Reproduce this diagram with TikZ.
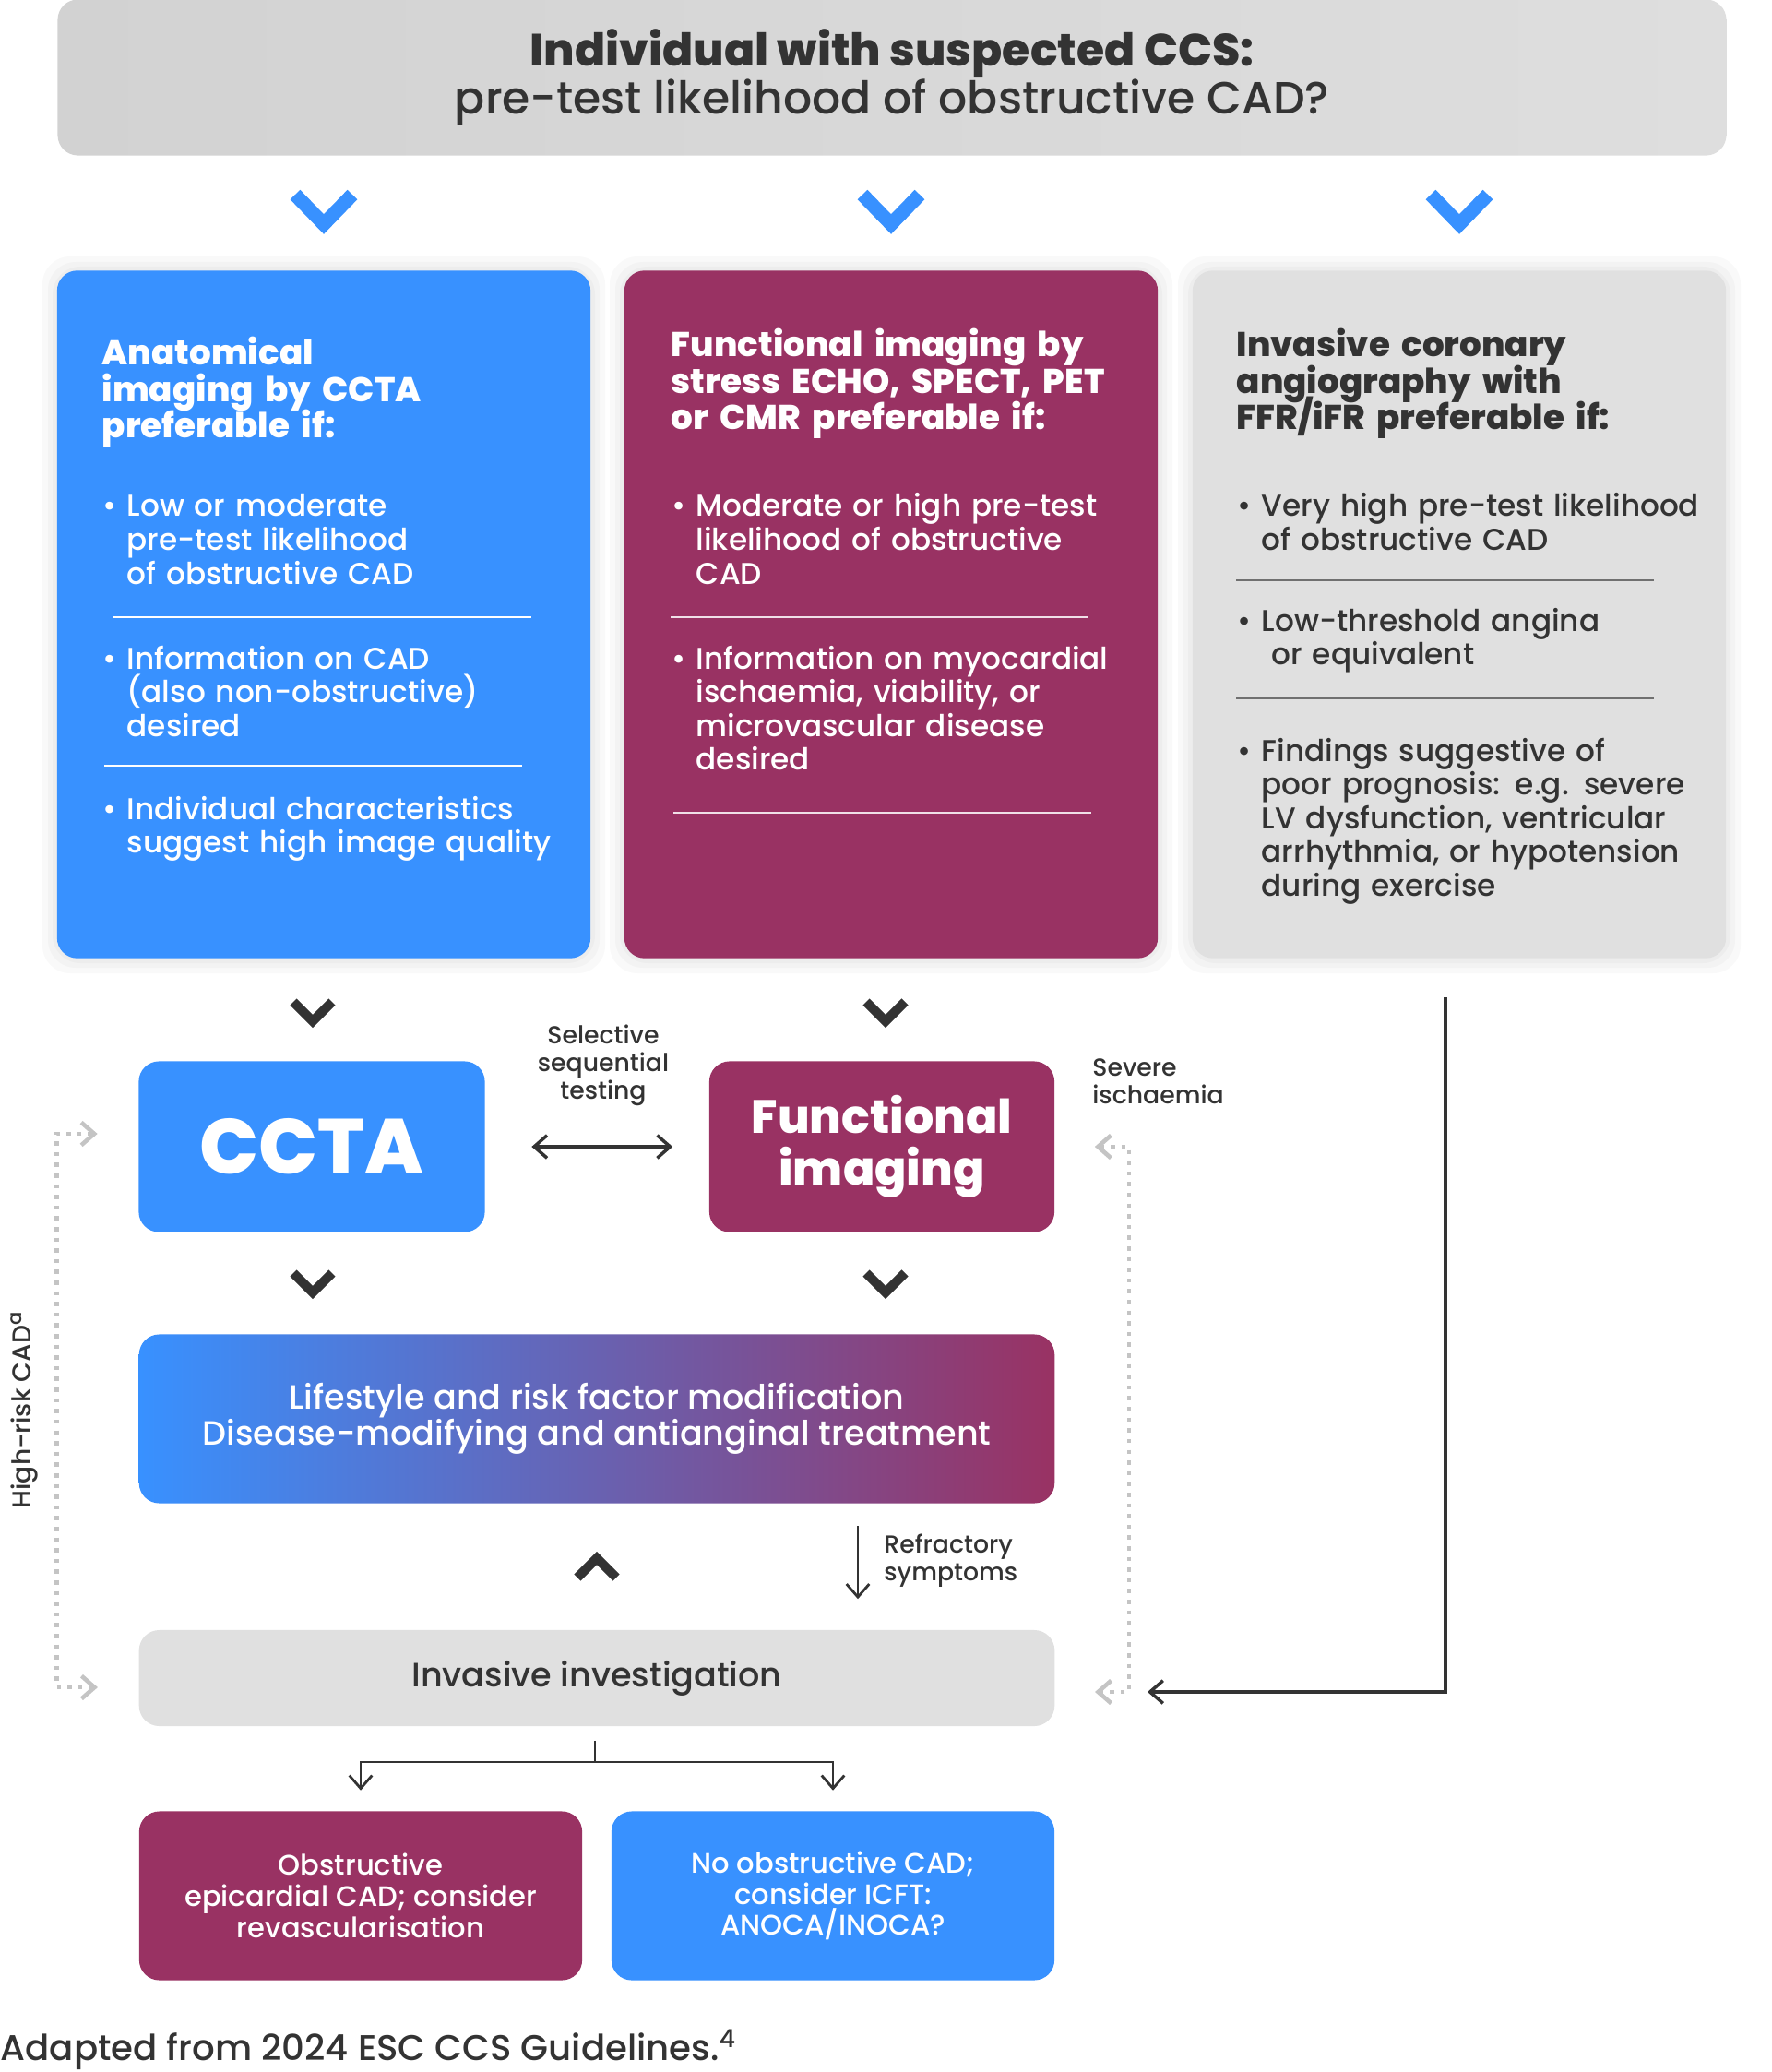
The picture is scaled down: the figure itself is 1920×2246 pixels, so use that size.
\documentclass[tikz,border=0pt]{standalone}
\usepackage{fontspec}
\setmainfont{Poppins Medium}[BoldFont={Poppins ExtraBold}]
\usetikzlibrary{arrows.meta}
\definecolor{ccsblue}{RGB}{56,145,255}
\definecolor{ccspurple}{RGB}{153,50,99}
\definecolor{ccsgrey}{RGB}{224,224,224}
\definecolor{ccstop}{RGB}{210,210,210}
\definecolor{ccstopr}{RGB}{222,222,222}
\definecolor{ccsdark}{RGB}{51,51,51}
\definecolor{ccsdots}{RGB}{196,196,196}
\newcommand{\ind}{\phantom{\textbullet}\ }
\lineskiplimit=-20pt
\normallineskiplimit=-20pt
\begin{document}
\begin{tikzpicture}[x=0.01cm,y=-0.01cm]
	\tikzset{>={Straight Barb[length=4pt,width=7pt]}}
	\tikzset{box/.style={rounded corners=0.22cm, inner sep=0pt, align=center},
		panel/.style={box, minimum width=5.78cm, minimum height=7.45cm},
		head/.style={anchor=base west, inner sep=0pt, text width=5.4cm, align=left,
			font=\bfseries\fontsize{10.6}{11.2}\selectfont,
			execute at begin node={\lineskiplimit=-20pt\relax}},
		item/.style={anchor=base west, inner sep=0pt, text width=5.4cm, align=left,
			font=\fontsize{9.3}{10.4}\selectfont,
			execute at begin node={\lineskiplimit=-20pt\relax}},
		label/.style={text=ccsdark, font=\fontsize{7.6}{8.6}\selectfont},
		dotline/.style={ccsdots, dotted, line width=1.3pt},
		sep/.style={line width=0.6pt}}
	\useasboundingbox (0,0) rectangle (1920,2246);
	
	% top question
	\node[box, minimum width=18.08cm, minimum height=1.69cm, left color=ccstop, right color=ccstopr,
		text=ccsdark, font=\fontsize{13.9}{14.6}\selectfont] (top) at (967,84)
		{\textbf{Individual with suspected CCS:}\\pre-test likelihood of obstructive CAD?};
	
	\foreach \cx in {351,966,1582}
	\draw[ccsblue, line width=0.15cm, line join=miter] (\cx-31,211) -- (\cx,243) -- (\cx+31,211);
	
	% soft halo behind the panels
	\foreach \cx in {351,966,1582}
	\foreach \s in {5,10,16}
	\fill[black, opacity=0.025, rounded corners=0.3cm] (\cx-289-\s,294-\s) rectangle (\cx+289+\s,1039+\s);
	
	% three panels
	\node[panel, fill=ccsblue] (pblue) at (351,666) {};
	\node[panel, fill=ccspurple] (ppurple) at (966,666) {};
	\node[panel, fill=ccsgrey] (pgrey) at (1582,666) {};
	
	\node[head, text=white] (hblue) at (110,396) {Anatomical\\imaging by CCTA\\preferable if:};
	\node[item, text=white] (b11) at (111,560) {\textbullet\ Low or moderate\\\ind pre-test likelihood\\\ind of obstructive CAD};
	\draw[white, sep] (123,669) -- (576,669);
	\node[item, text=white] (b12) at (111,725) {\textbullet\ Information on CAD\\\ind (also non-obstructive)\\\ind desired};
	\draw[white, sep] (113,830) -- (566,830);
	\node[item, text=white] (b13) at (111,888) {\textbullet\ Individual characteristics\\\ind suggest high image quality};
	
	\node[head, text=white] (hpurple) at (727,387) {Functional imaging by\\stress ECHO, SPECT, PET\\or CMR preferable if:};
	\node[item, text=white] (b21) at (728,560) {\textbullet\ Moderate or high pre-test\\\ind likelihood of obstructive\\\ind CAD};
	\draw[white!85!ccspurple, sep] (727,669) -- (1180,669);
	\node[item, text=white] (b22) at (728,725) {\textbullet\ Information on myocardial\\\ind ischaemia, viability, or\\\ind microvascular disease\\\ind desired};
	\draw[white!85!ccspurple, sep] (730,881) -- (1183,881);
	
	\node[head, text=ccsdark] (hgrey) at (1340,387) {Invasive coronary\\angiography with\\FFR/iFR preferable if:};
	\node[item, text=ccsdark] (b31) at (1341,560) {\textbullet\ Very high pre-test likelihood\\\ind of obstructive CAD};
	\draw[ccsdark!70, sep] (1340,629) -- (1793,629);
	\node[item, text=ccsdark] (b32) at (1341,684) {\textbullet\ Low-threshold angina\\\ind\ or equivalent};
	\draw[ccsdark!70, sep] (1340,757) -- (1793,757);
	\node[item, text=ccsdark] (b33) at (1341,825) {\textbullet\ Findings suggestive of\\\ind poor prognosis: e.g. severe\\\ind LV dysfunction, ventricular\\\ind arrhythmia, or hypotension\\\ind during exercise};
	
	% tests
	\foreach \cx in {339,960}
	{
	\draw[ccsdark, line width=0.1cm, line join=miter] (\cx-21,1086) -- (\cx,1107) -- (\cx+21,1086);
	\draw[ccsdark, line width=0.1cm, line join=miter] (\cx-21,1380) -- (\cx,1401) -- (\cx+21,1380);
	}
	\node[box, fill=ccsblue, minimum width=3.75cm, minimum height=1.85cm, text=white,
		font=\bfseries\fontsize{24}{28}\selectfont] (ccta) at (338,1243) {CCTA};
	\node[box, fill=ccspurple, minimum width=3.74cm, minimum height=1.85cm, text=white,
		font=\bfseries\fontsize{14.4}{15.8}\selectfont] (func) at (956,1243) {Functional\\imaging};
	\draw[<->, ccsdark, line width=1pt, shorten <=0.5cm, shorten >=0.39cm] (ccta.east) -- (func.west);
	\node[label, align=center] (sst) at (654,1155) {Selective\\sequential\\testing};
	\node[label, align=left, anchor=west] (sev) at (1172,1172) {Severe\\ischaemia};
	
	% treatment
	\node[box, left color=ccsblue, right color=ccspurple, minimum width=9.92cm, minimum height=1.83cm,
		text=white, font=\fontsize{10.4}{11}\selectfont] (life) at (647,1538)
		{Lifestyle and risk factor modification\\Disease-modifying and antianginal treatment};
	\draw[ccsdark, line width=0.1cm, line join=miter] (626,1710) -- (647,1689) -- (668,1710);
	\coordinate (refx) at (930,0);
	\node[label, align=left, anchor=west] (ref) at (946,1692) {Refractory\\symptoms};
	
	% invasive
	\node[box, fill=ccsgrey, minimum width=9.92cm, minimum height=1.04cm, text=ccsdark,
		font=\fontsize{10.4}{12}\selectfont] (inv) at (647,1819) {Invasive investigation};
	\draw[->, ccsdark, line width=0.8pt, shorten <=0.24cm, shorten >=0.33cm] (life.south -| refx) -- (inv.north -| refx);
	
	\node[box, fill=ccspurple, minimum width=4.8cm, minimum height=1.83cm, text=white,
		font=\fontsize{8.7}{9.6}\selectfont] (obs) at (391,2055)
		{Obstructive\\epicardial CAD; consider\\revascularisation};
	\node[box, fill=ccsblue, minimum width=4.8cm, minimum height=1.83cm, text=white,
		font=\fontsize{8.7}{9.6}\selectfont] (noobs) at (903,2055)
		{No obstructive CAD;\\consider ICFT:\\ANOCA/INOCA?};
	\coordinate (fork) at (645,1910);
	\draw[ccsdark, line width=0.8pt] (inv.south) ++(-2,15) -- (fork);
	\draw[->, ccsdark, line width=0.8pt, shorten >=0.22cm] (fork) -| (obs.north);
	\draw[->, ccsdark, line width=0.8pt, shorten >=0.22cm] (fork) -| (noobs.north);
	
	% loops
	\draw[dotline, <->] ([xshift=-0.44cm, yshift=0.14cm]ccta.west) -- ++(-44,0) |- ([xshift=-0.44cm, yshift=-0.1cm]inv.west);
	\draw[dotline, <->] ([xshift=0.43cm]func.east) -- ++(37,0) |- ([xshift=0.43cm, yshift=-0.15cm]inv.east);
	\draw[->, ccsdark, line width=1pt, shorten >=1cm] (pgrey.south) ++(-15,42) |- ([yshift=-0.15cm]inv.east);
	\node[label, rotate=90, font=\fontsize{8}{9}\selectfont] (hrisk) at (26,1528) {High-risk CAD\textsuperscript{a}};
	
	\node[anchor=west, text=ccsdark, inner sep=0pt, font=\fontsize{11}{12}\selectfont] (src) at (0,2222)
		{Adapted from 2024 ESC CCS Guidelines.\textsuperscript{4}};
	
\end{tikzpicture}
\end{document}
